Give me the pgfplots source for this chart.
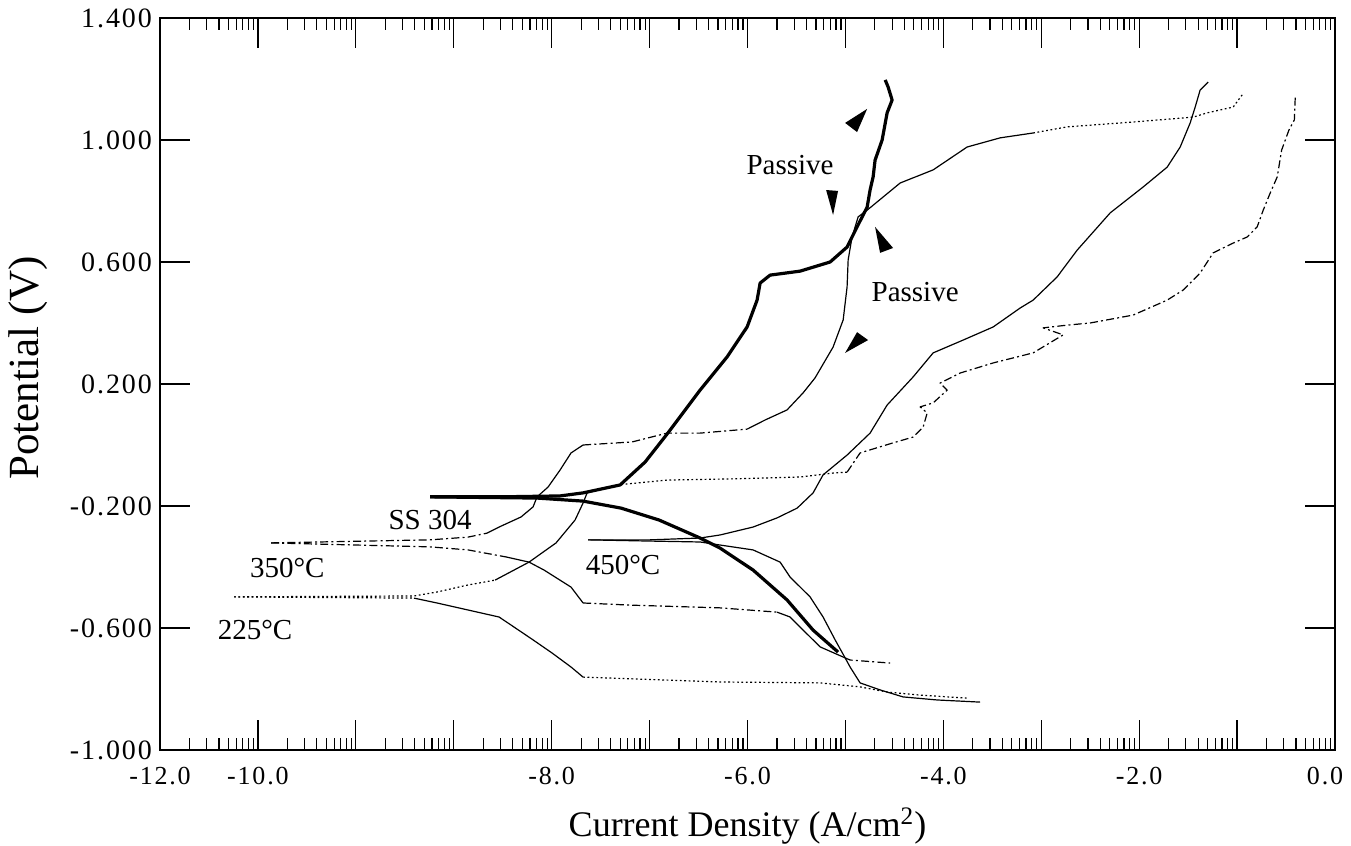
\documentclass[border=0pt]{standalone}
\usepackage{fontspec}
\setmainfont{Liberation Serif}
\newfontfamily\tickfont[LetterSpace=7]{Liberation Serif}
\usepackage{pgfplots}
\pgfplotsset{compat=1.18}

% log-spaced minor ticks inside each decade
\def\minorlist{}
\foreach \d in {-12,...,-1}{%
  \foreach \o in {0.30103,0.47712,0.60206,0.69897,0.77815,0.84510,0.90309,0.95424}{%
    \pgfmathsetmacro\v{\d+\o}%
    \ifx\minorlist\empty\xdef\minorlist{\v}\else\xdef\minorlist{\minorlist,\v}\fi}}

\pgfplotsset{
  thinline/.style={black, line width=0.6pt, no marks, line join=round},
  thickline/.style={black, line width=1.6pt, no marks, line join=round},
  dashdot/.style={thinline, dash pattern=on 4pt off 1.6pt on 1pt off 1.6pt},
  dotline/.style={thinline, dash pattern=on 0.9pt off 1.3pt},
}

\begin{document}
\begin{tikzpicture}
\begin{axis}[
  scale only axis,
  width=587.5pt, height=366pt,
  xmin=-12, xmax=0, ymin=-1, ymax=1.4,
  axis line style={black, line width=0.6pt},
  tick style={black, line width=0.6pt},
  tick align=inside,
  major tick length=15pt,
  minor tick length=6pt,
  xtick={-12,-11,...,0},
  xticklabels={-12.0,-10.0,{},{},-8.0,{},-6.0,{},-4.0,{},-2.0,{},{\hspace*{-10pt}0.0}},
  minor xtick/.expanded={\minorlist},
  ytick={-1,-0.6,-0.2,0.2,0.6,1.0,1.4},
  yticklabels={-1.000,-0.600,-0.200,0.200,0.600,1.000,1.400},
  xticklabel style={font=\tickfont\fontsize{13}{15}\selectfont, yshift=-5pt},
  yticklabel style={font=\tickfont\fontsize{14}{16}\selectfont, xshift=-0.5pt},
  xlabel={Current Density (A/cm\textsuperscript{2})},
  ylabel={Potential (V)},
  xlabel style={font=\fontsize{18}{20}\selectfont, at={(axis description cs:0.5,-0.1038)}, anchor=center},
  ylabel style={font=\fontsize{21.5}{23}\selectfont, at={(axis description cs:-0.1123,0.522)}, anchor=center},
  clip=true,
]

% ---------- SS 304 (thick) ----------
\addplot[thickline] coordinates {
(-9.242,-0.170) (-8.527,-0.170) (-7.914,-0.167) (-7.679,-0.157) (-7.301,-0.131)
(-7.046,-0.056) (-6.821,0.036) (-6.484,0.180) (-6.208,0.289) (-6.004,0.387)
(-5.902,0.475) (-5.871,0.531) (-5.769,0.557) (-5.463,0.570) (-5.156,0.600)
(-4.983,0.649) (-4.881,0.715) (-4.778,0.780) (-4.748,0.836) (-4.717,0.879)
(-4.697,0.934) (-4.625,1.000) (-4.574,1.089) (-4.523,1.131) (-4.564,1.174)
(-4.594,1.197)};
\addplot[thickline] coordinates {
(-9.242,-0.170) (-8.149,-0.174) (-7.679,-0.184) (-7.291,-0.207) (-6.903,-0.246)
(-6.484,-0.305) (-6.280,-0.338) (-5.943,-0.410) (-5.596,-0.508) (-5.330,-0.607)
(-5.075,-0.679)};

% ---------- 450 C (thin solid) ----------
\addplot[thinline] coordinates {
(-7.628,-0.311) (-6.995,-0.311) (-6.484,-0.305) (-6.280,-0.295) (-5.943,-0.269)
(-5.698,-0.239) (-5.493,-0.207) (-5.330,-0.157) (-5.228,-0.098) (-4.983,-0.033)
(-4.748,0.039) (-4.574,0.131) (-4.309,0.223) (-4.104,0.302) (-3.798,0.344)
(-3.491,0.387) (-3.216,0.449) (-3.083,0.475) (-2.838,0.551) (-2.633,0.639)
(-2.296,0.761) (-1.959,0.846) (-1.714,0.911) (-1.581,0.977) (-1.479,1.056)
(-1.428,1.108) (-1.377,1.164) (-1.295,1.190)};
\addplot[thinline] coordinates {
(-7.628,-0.311) (-6.995,-0.315) (-6.484,-0.318) (-6.280,-0.328) (-5.943,-0.344)
(-5.667,-0.384) (-5.565,-0.433) (-5.361,-0.498) (-5.228,-0.564) (-5.105,-0.639)
(-5.003,-0.698) (-4.952,-0.728) (-4.850,-0.780) (-4.646,-0.803) (-4.411,-0.826)
(-4.063,-0.836) (-3.624,-0.843)};

% ---------- 350 C ----------
\addplot[dashdot] coordinates {
(-10.866,-0.321) (-9.242,-0.311) (-8.854,-0.302) (-8.660,-0.289)};
\addplot[thinline] coordinates {
(-8.660,-0.289) (-8.537,-0.269) (-8.313,-0.236) (-8.190,-0.203) (-8.149,-0.170)
(-8.037,-0.138) (-7.914,-0.082) (-7.802,-0.026) (-7.679,0.000)};
\addplot[dashdot] coordinates {
(-7.679,0.000) (-7.179,0.010) (-6.821,0.039) (-6.484,0.039) (-6.004,0.052)};
\addplot[thinline] coordinates {
(-6.004,0.052) (-5.820,0.082) (-5.596,0.115) (-5.432,0.171) (-5.310,0.220)
(-5.126,0.321) (-5.023,0.410) (-4.983,0.518) (-4.972,0.607) (-4.932,0.682)
(-4.870,0.748) (-4.778,0.770) (-4.441,0.859) (-4.104,0.902) (-3.757,0.977)
(-3.420,1.007) (-3.083,1.023)};
\addplot[dotline] coordinates {
(-3.083,1.023) (-2.735,1.043) (-2.061,1.059) (-1.448,1.075) (-1.305,1.089)
(-1.040,1.108) (-0.948,1.148)};

\addplot[dashdot] coordinates {
(-10.866,-0.321) (-9.242,-0.334) (-8.854,-0.344) (-8.466,-0.367)};
\addplot[thinline] coordinates {
(-8.466,-0.367) (-8.231,-0.384) (-8.078,-0.410) (-7.802,-0.466) (-7.679,-0.518)};
\addplot[dashdot] coordinates {
(-7.679,-0.518) (-7.200,-0.525) (-6.280,-0.534) (-5.698,-0.548)};
\addplot[thinline] coordinates {
(-5.698,-0.548) (-5.565,-0.564) (-5.463,-0.597) (-5.258,-0.662) (-5.003,-0.698)};
\addplot[dashdot] coordinates {
(-5.003,-0.698) (-4.952,-0.705) (-4.543,-0.715)};

% ---------- 225 C ----------
\addplot[dotline] coordinates {
(-11.244,-0.498) (-9.406,-0.495) (-9.171,-0.482) (-8.854,-0.459) (-8.578,-0.443)};
\addplot[thinline] coordinates {
(-8.578,-0.443) (-8.231,-0.384) (-7.955,-0.321) (-7.761,-0.246) (-7.679,-0.190)
(-7.638,-0.157)};
\addplot[dotline] coordinates {
(-7.638,-0.157) (-7.332,-0.131) (-6.821,-0.115) (-6.147,-0.111) (-5.463,-0.105)
(-5.126,-0.092) (-4.983,-0.089)};
\addplot[dashdot] coordinates {
(-4.983,-0.089) (-4.850,-0.026) (-4.748,-0.016) (-4.513,0.007) (-4.309,0.026)
(-4.206,0.059) (-4.165,0.105) (-4.237,0.125) (-4.104,0.138) (-3.961,0.180)
(-4.033,0.203) (-3.828,0.236) (-3.491,0.269) (-3.083,0.302) (-2.776,0.361)
(-2.981,0.384) (-2.735,0.393) (-2.501,0.400) (-2.061,0.426) (-1.714,0.475)
(-1.551,0.508) (-1.377,0.564) (-1.244,0.630) (-1.040,0.662) (-0.897,0.682)
(-0.795,0.715) (-0.733,0.770) (-0.662,0.826) (-0.590,0.879) (-0.545,0.967)
(-0.470,1.033) (-0.415,1.066) (-0.405,1.148)};

\addplot[dotline] coordinates {
(-11.244,-0.498) (-9.406,-0.502)};
\addplot[thinline] coordinates {
(-9.406,-0.502) (-9.171,-0.518) (-8.854,-0.541) (-8.537,-0.564) (-8.384,-0.597)
(-8.190,-0.639) (-7.996,-0.682) (-7.802,-0.728) (-7.679,-0.761)};
\addplot[dotline] coordinates {
(-7.679,-0.761) (-6.280,-0.777) (-5.258,-0.780) (-4.850,-0.793) (-4.574,-0.810)
(-4.237,-0.820) (-3.757,-0.830)};

% ---------- passive-range arrowheads ----------
\fill[black] (axis cs:-4.778,1.102) -- (axis cs:-5.003,1.056) -- (axis cs:-4.881,1.026) -- cycle;
\fill[black] (axis cs:-5.126,0.754) -- (axis cs:-5.197,0.836) -- (axis cs:-5.075,0.833) -- cycle;
\fill[black] (axis cs:-4.697,0.715) -- (axis cs:-4.646,0.630) -- (axis cs:-4.513,0.646) -- cycle;
\fill[black] (axis cs:-5.003,0.302) -- (axis cs:-4.881,0.370) -- (axis cs:-4.768,0.344) -- cycle;

% ---------- annotations ----------
\begin{scope}[every node/.style={font=\fontsize{14.5}{16}\selectfont, inner sep=0pt}]
\node at (axis cs:-5.565,0.918) {Passive};
\node at (axis cs:-4.288,0.502) {Passive};
\node at (axis cs:-9.242,-0.246) {SS 304};
\node at (axis cs:-10.70,-0.403) {350°C};
\node at (axis cs:-11.03,-0.608) {225°C};
\node at (axis cs:-7.271,-0.393) {450°C};
\end{scope}
\end{axis}
\pgfresetboundingbox
\path[use as bounding box] ([shift={(-80pt,-48pt)}]current axis.south west) rectangle ([shift={(8pt,9pt)}]current axis.north east);
\end{tikzpicture}
\end{document}
